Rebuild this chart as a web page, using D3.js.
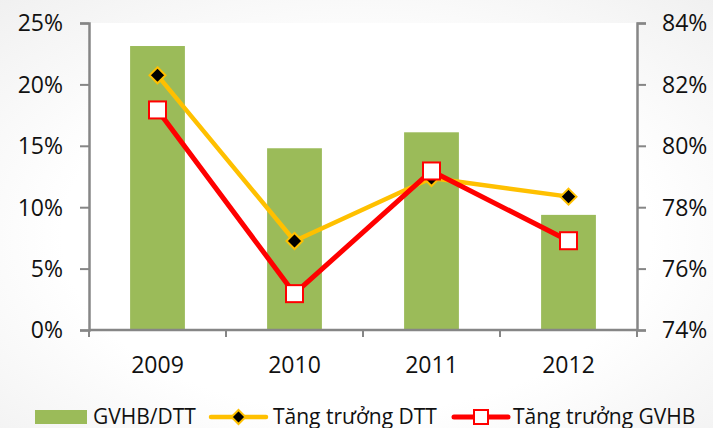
<!DOCTYPE html>
<html>
<head>
<meta charset="utf-8">
<script src="https://cdn.jsdelivr.net/npm/d3@7"></script>
<style>
  body { margin: 0; background: #fff; }
  text { font-family: "Open Sans", "Noto Sans", sans-serif; fill: #111; }
</style>
</head>
<body>
<div id="chart"></div>
<script>
var years = ["2009", "2010", "2011", "2012"];
var gvhbDtt = [0.8325, 0.7992, 0.8044, 0.7775];     // bars, right axis
var tangTruongDtt = [0.2074, 0.0725, 0.1238, 0.1086]; // yellow line, left axis
var tangTruongGvhb = [0.1792, 0.0296, 0.1295, 0.0727]; // red line, left axis
var leftTicks = [0, 0.05, 0.10, 0.15, 0.20, 0.25];
var rightTicks = [0.74, 0.76, 0.78, 0.80, 0.82, 0.84];
var legendLabels = ["GVHB/DTT", "Tăng trưởng DTT", "Tăng trưởng GVHB"];

var W = 713, H = 428;
var plot = {left: 89, right: 637, top: 23, bottom: 330};

var svg = d3.select("#chart").append("svg")
    .attr("width", W)
    .attr("height", H);

// soft grey background outside the plot area
var defs = svg.append("defs");
var grad = defs.append("radialGradient")
    .attr("id", "bg")
    .attr("cx", "0.5").attr("cy", "0.55").attr("r", "0.75");
grad.append("stop").attr("offset", "0.55").attr("stop-color", "#ffffff");
grad.append("stop").attr("offset", "1").attr("stop-color", "#f0f0f0");

svg.append("rect")
    .attr("width", W).attr("height", H)
    .attr("fill", "url(#bg)");

svg.append("rect")
    .attr("x", plot.left).attr("y", plot.top)
    .attr("width", plot.right - plot.left)
    .attr("height", plot.bottom - plot.top)
    .attr("fill", "#fff");

var x = d3.scaleBand()
    .domain(years)
    .range([plot.left, plot.right])
    .padding(0);

var yLeft = d3.scaleLinear()
    .domain([0, 0.25])
    .range([plot.bottom, plot.top]);

var yRight = d3.scaleLinear()
    .domain([0.74, 0.84])
    .range([plot.bottom, plot.top]);

var pct = d3.format(".0%");

// BARS

var barW = x.bandwidth() * 0.4;

svg.selectAll(".bar")
    .data(years)
    .enter().append("rect")
    .attr("class", "bar")
    .attr("x", function(d) { return x(d) + (x.bandwidth() - barW) / 2; })
    .attr("y", function(d, i) { return yRight(gvhbDtt[i]); })
    .attr("width", barW)
    .attr("height", function(d, i) { return plot.bottom - yRight(gvhbDtt[i]); })
    .attr("fill", "#9BBB59");

// AXES

var axisColor = "#868686";

var leftAxis = svg.append("g")
    .attr("transform", "translate(" + plot.left + ",0)")
    .call(d3.axisLeft(yLeft).tickValues(leftTicks).tickFormat(pct).tickSize(9).tickSizeOuter(9).tickPadding(17));

var rightAxis = svg.append("g")
    .attr("transform", "translate(" + plot.right + ",0)")
    .call(d3.axisRight(yRight).tickValues(rightTicks).tickFormat(pct).tickSize(9).tickSizeOuter(9).tickPadding(16));

[leftAxis, rightAxis].forEach(function(g) {
    g.select(".domain").attr("stroke", axisColor).attr("stroke-width", 2.5);
    g.selectAll(".tick line").attr("stroke", axisColor).attr("stroke-width", 2);
    g.selectAll(".tick text")
        .attr("font-size", 23)
        .attr("dy", "0.34em")
        .attr("font-family", "'Open Sans', sans-serif")
        .attr("fill", "#111");
});

// x axis: line plus ticks at category boundaries
var xAxis = svg.append("g");
xAxis.append("line")
    .attr("x1", plot.left).attr("x2", plot.right)
    .attr("y1", plot.bottom).attr("y2", plot.bottom)
    .attr("stroke", axisColor).attr("stroke-width", 2.5);

var bounds = years.map(function(d) { return x(d); }).concat([x(years[years.length - 1]) + x.bandwidth()]);
xAxis.selectAll(".xtick")
    .data(bounds)
    .enter().append("line")
    .attr("x1", function(d) { return d; }).attr("x2", function(d) { return d; })
    .attr("y1", plot.bottom).attr("y2", plot.bottom + 7)
    .attr("stroke", axisColor).attr("stroke-width", 2);

xAxis.selectAll(".xlabel")
    .data(years)
    .enter().append("text")
    .attr("x", function(d) { return x(d) + x.bandwidth() / 2; })
    .attr("y", 373)
    .attr("text-anchor", "middle")
    .attr("font-size", 23)
    .text(function(d) { return d; });

// LINES

var line = function(yScale, values) {
    return d3.line()
        .x(function(d, i) { return x(years[i]) + x.bandwidth() / 2; })
        .y(function(d) { return yScale(d); })(values);
};

svg.append("path")
    .attr("d", line(yLeft, tangTruongDtt))
    .attr("fill", "none")
    .attr("stroke", "#FFC000")
    .attr("stroke-width", 4.5)
    .attr("stroke-linejoin", "round");

svg.append("path")
    .attr("d", line(yLeft, tangTruongGvhb))
    .attr("fill", "none")
    .attr("stroke", "#FF0000")
    .attr("stroke-width", 5)
    .attr("stroke-linejoin", "round");

function diamond(cx, cy, r) {
    return "M" + cx + "," + (cy - r) + "L" + (cx + r) + "," + cy + "L" + cx + "," + (cy + r) + "L" + (cx - r) + "," + cy + "Z";
}

svg.selectAll(".dmark")
    .data(tangTruongDtt)
    .enter().append("path")
    .attr("d", function(d, i) { return diamond(x(years[i]) + x.bandwidth() / 2, yLeft(d), 8); })
    .attr("fill", "#000")
    .attr("stroke", "#FFC000")
    .attr("stroke-width", 2);

var sq = 17;
svg.selectAll(".smark")
    .data(tangTruongGvhb)
    .enter().append("rect")
    .attr("x", function(d, i) { return x(years[i]) + x.bandwidth() / 2 - sq / 2; })
    .attr("y", function(d) { return yLeft(d) - sq / 2; })
    .attr("width", sq).attr("height", sq)
    .attr("fill", "#fff")
    .attr("stroke", "#FF0000")
    .attr("stroke-width", 2);

// LEGEND

var leg = svg.append("g");
var ly = 417;

leg.append("rect")
    .attr("x", 35).attr("y", ly - 7)
    .attr("width", 52).attr("height", 14)
    .attr("fill", "#9BBB59");
leg.append("text")
    .attr("x", 93).attr("y", ly + 6.5)
    .attr("font-size", 21)
    .text(legendLabels[0]);

leg.append("line")
    .attr("x1", 211).attr("x2", 266).attr("y1", ly).attr("y2", ly)
    .attr("stroke", "#FFC000").attr("stroke-width", 4.5).attr("stroke-linecap", "round");
leg.append("path")
    .attr("d", diamond(238.5, ly, 7))
    .attr("fill", "#000").attr("stroke", "#FFC000").attr("stroke-width", 2);
leg.append("text")
    .attr("x", 273).attr("y", ly + 6.5)
    .attr("font-size", 21)
    .text(legendLabels[1]);

leg.append("line")
    .attr("x1", 454).attr("x2", 508).attr("y1", ly).attr("y2", ly)
    .attr("stroke", "#FF0000").attr("stroke-width", 5).attr("stroke-linecap", "round");
leg.append("rect")
    .attr("x", 481 - 7).attr("y", ly - 7)
    .attr("width", 14).attr("height", 14)
    .attr("fill", "#fff").attr("stroke", "#FF0000").attr("stroke-width", 2);
leg.append("text")
    .attr("x", 513).attr("y", ly + 6.5)
    .attr("font-size", 21)
    .text(legendLabels[2]);
</script>
</body>
</html>
